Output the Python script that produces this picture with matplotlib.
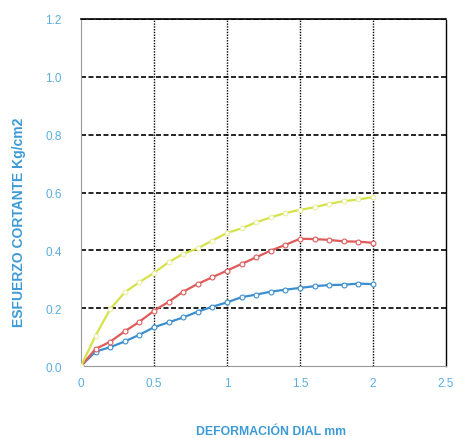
import numpy as np
import matplotlib
matplotlib.use('Agg')
import matplotlib.pyplot as plt

plt.rcParams['font.family'] = ['Liberation Sans', 'DejaVu Sans']

# deformation dial readings (mm)
deformacion = [0.0, 0.1, 0.2, 0.3, 0.4, 0.5, 0.6, 0.7, 0.8, 0.9, 1.0,
               1.1, 1.2, 1.3, 1.4, 1.5, 1.6, 1.7, 1.8, 1.9, 2.0]

# shear stress (kg/cm2) for each specimen
esfuerzo_azul = [0.0, 0.05, 0.065, 0.085, 0.108, 0.134, 0.151, 0.168, 0.188, 0.205, 0.220,
                 0.238, 0.247, 0.257, 0.264, 0.270, 0.276, 0.280, 0.281, 0.285, 0.283]
esfuerzo_rojo = [0.0, 0.059, 0.084, 0.120, 0.153, 0.191, 0.222, 0.257, 0.284, 0.307, 0.330,
                 0.353, 0.376, 0.399, 0.419, 0.440, 0.439, 0.436, 0.431, 0.430, 0.426]
esfuerzo_amarillo = [0.0, 0.105, 0.197, 0.255, 0.290, 0.322, 0.359, 0.388, 0.407, 0.434, 0.460,
                     0.476, 0.497, 0.514, 0.529, 0.540, 0.549, 0.561, 0.570, 0.576, 0.584]

x_ticks = [0, 0.5, 1, 1.5, 2, 2.5]
x_tick_labels = ['0', '0.5', '1', '1.5', '2', '2.5']
y_ticks = [0.0, 0.2, 0.4, 0.6, 0.8, 1.0, 1.2]

label_color = '#3b9ad6'
tick_color = '#5aaee0'

fig = plt.figure(figsize=(4.56, 4.39), dpi=100)
ax = fig.add_axes([81/456, 1 - 367/439, 365/456, 347/439])

# grid lines
for yv in y_ticks[1:]:
    ax.axhline(yv, color='black', linestyle=(0, (3, 1.5)), linewidth=1.2, zorder=1)
for xv in x_ticks[1:-1]:
    ax.axvline(xv, color='black', linestyle=(0, (1, 1)), linewidth=1.0, zorder=1)

# curves
ax.plot(deformacion, esfuerzo_azul, color='#3c8fcf', linewidth=1.6, marker='o',
        markersize=3.5, markerfacecolor='white', markeredgecolor='#3c8fcf',
        markeredgewidth=0.8, zorder=3)
ax.plot(deformacion, esfuerzo_rojo, color='#e05a5a', linewidth=1.6, marker='o',
        markersize=3.5, markerfacecolor='white', markeredgecolor='#e05a5a',
        markeredgewidth=0.8, zorder=3)
ax.plot(deformacion, esfuerzo_amarillo, color='#d6e24a', linewidth=1.6, marker='o',
        markersize=3.5, markerfacecolor='white', markeredgecolor='#e3ea8a',
        markeredgewidth=0.6, zorder=3)

ax.set_xlim(0, 2.5)
ax.set_ylim(0, 1.2)
ax.set_xticks(x_ticks)
ax.set_xticklabels(x_tick_labels)
ax.set_yticks(y_ticks)
ax.set_yticklabels(['%.1f' % v for v in y_ticks])
ax.tick_params(axis='x', colors=tick_color, labelsize=8.5, length=0, pad=8)
ax.tick_params(axis='y', colors=tick_color, labelsize=8.5, length=0, pad=14)

# spines
ax.spines['top'].set_color('black')
ax.spines['top'].set_linewidth(1.2)
for s in ['left', 'bottom']:
    ax.spines[s].set_color('#999999')
    ax.spines[s].set_linestyle((0, (1, 1)))
    ax.spines[s].set_linewidth(0.8)
ax.spines['right'].set_color('black')
ax.spines['right'].set_linestyle((0, (1, 1)))
ax.spines['right'].set_linewidth(1.0)

ax.set_xlabel('DEFORMACIÓN DIAL mm', color=label_color, fontsize=8.8,
              fontweight='bold')
ax.set_ylabel('ESFUERZO CORTANTE Kg/cm2', color=label_color, fontsize=10,
              fontweight='bold')
ax.xaxis.set_label_coords(0.52, -0.17)
ax.yaxis.set_label_coords(-0.152, 0.418)

plt.savefig('out.png', dpi=100)
